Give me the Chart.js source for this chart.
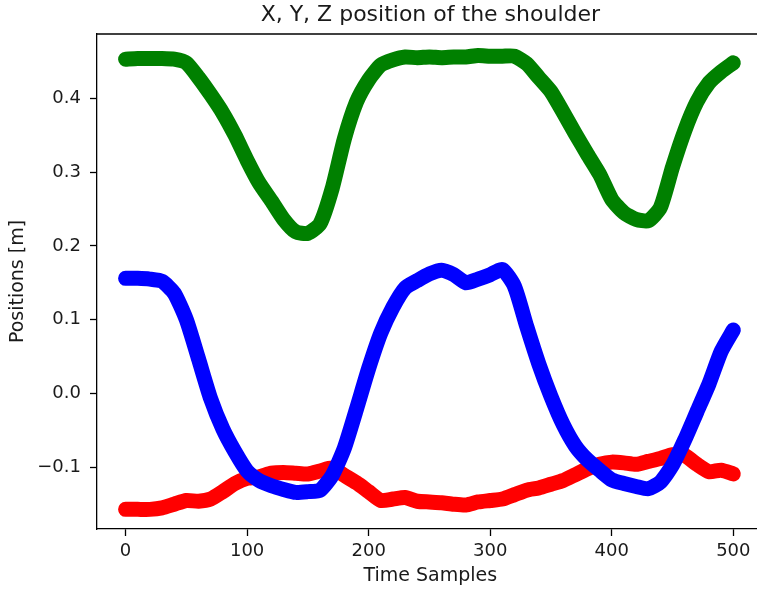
<!DOCTYPE html>
<html>
<head>
<meta charset="utf-8">
<script src="https://cdn.jsdelivr.net/npm/chart.js@4/dist/chart.umd.min.js"></script>
<style>
  html, body { margin: 0; padding: 0; background: #fff; overflow: hidden; }
  #wrap { width: 757px; height: 589px; overflow: hidden; }
  canvas { display: block; }
</style>
</head>
<body>
<div id="wrap"><canvas id="chart" width="770" height="589"></canvas></div>
<script>
// sample index (x axis), read every 10 samples off the reference
const SAMPLES = [0, 10, 20, 30, 40, 50, 60, 70, 80, 90, 100, 110, 120, 130, 140, 150, 160, 170, 180, 190, 200,
  210, 220, 230, 240, 250, 260, 270, 280, 290, 300, 310, 320, 330, 340, 350, 360, 370, 380, 390, 400,
  410, 420, 430, 440, 450, 460, 470, 480, 490, 500];

const greenValues = [0.453, 0.454, 0.454, 0.454, 0.453, 0.448, 0.428, 0.405, 0.380, 0.350, 0.316, 0.285, 0.261, 0.236, 0.219, 0.217,
  0.230, 0.278, 0.345, 0.395, 0.425, 0.445, 0.452, 0.456, 0.455, 0.456, 0.455, 0.456, 0.456, 0.458, 0.457, 0.457, 0.457,
  0.447, 0.428, 0.409, 0.381, 0.352, 0.324, 0.297, 0.263, 0.245, 0.236, 0.234, 0.252, 0.307, 0.356, 0.395, 0.421, 0.436, 0.448];

const blueValues = [0.156, 0.156, 0.155, 0.152, 0.136, 0.100, 0.047, -0.007, -0.048, -0.079, -0.105, -0.118, -0.125, -0.130,
  -0.134, -0.133, -0.131, -0.111, -0.074, -0.021, 0.034, 0.082, 0.117, 0.143, 0.153, 0.162, 0.167, 0.161, 0.150, 0.155,
  0.161, 0.168, 0.145, 0.091, 0.040, -0.004, -0.042, -0.071, -0.090, -0.104, -0.117, -0.122, -0.126, -0.129, -0.120,
  -0.097, -0.063, -0.025, 0.013, 0.057, 0.086];

const redValues = [-0.157, -0.157, -0.157, -0.155, -0.150, -0.145, -0.146, -0.143, -0.133, -0.122, -0.115, -0.113, -0.108,
  -0.107, -0.108, -0.109, -0.105, -0.101, -0.111, -0.121, -0.133, -0.145, -0.143, -0.141, -0.146, -0.147, -0.148, -0.150,
  -0.151, -0.147, -0.145, -0.143, -0.137, -0.131, -0.128, -0.123, -0.118, -0.110, -0.102, -0.096, -0.093, -0.094, -0.096,
  -0.092, -0.088, -0.083, -0.084, -0.096, -0.106, -0.104, -0.109];

const X_TICKS = [0, 100, 200, 300, 400, 500];
const Y_TICKS = [-0.1, 0.0, 0.1, 0.2, 0.3, 0.4];

const FONT = "'DejaVu Sans', sans-serif";
const INK = '#1a1a1a';

const toPoints = (values) => values.map((v, i) => ({ x: SAMPLES[i], y: v }));

const series = (label, values, color) => ({
  label: label,
  data: toPoints(values),
  showLine: true,
  borderColor: color,
  backgroundColor: color,
  borderWidth: 15,
  borderCapStyle: 'round',
  borderJoinStyle: 'round',
  tension: 0.2,
  pointRadius: 0,
  pointHoverRadius: 0
});

// top spine of the axes box
const topSpine = {
  id: 'topSpine',
  afterDraw(chart) {
    const { ctx, chartArea } = chart;
    ctx.save();
    ctx.strokeStyle = '#000';
    ctx.lineWidth = 1.3;
    ctx.beginPath();
    ctx.moveTo(chartArea.left, chartArea.top);
    ctx.lineTo(chartArea.right, chartArea.top);
    ctx.stroke();
    ctx.restore();
  }
};

new Chart(document.getElementById('chart'), {
  type: 'scatter',
  data: {
    datasets: [
      series('Z', blueValues, '#0000ff'),
      series('X', redValues, '#ff0000'),
      series('Y', greenValues, '#008000')
    ]
  },
  plugins: [topSpine],
  options: {
    responsive: false,
    animation: false,
    devicePixelRatio: 1,
    layout: { padding: { left: 0, right: 6.3, top: 0, bottom: 0 } },
    plugins: {
      legend: { display: false },
      tooltip: { enabled: false },
      title: {
        display: true,
        text: 'X, Y, Z position of the shoulder',
        fullSize: false,
        color: INK,
        font: { family: FONT, size: 22, weight: 'normal' },
        padding: { top: 2, bottom: 5.6 }
      }
    },
    scales: {
      x: {
        type: 'linear',
        min: -23.5,
        max: 525,
        afterBuildTicks: (axis) => { axis.ticks = X_TICKS.map(v => ({ value: v })); },
        afterFit: (axis) => { axis.height = 60; },
        grid: { display: true, drawOnChartArea: false, drawTicks: true, tickLength: 7, tickWidth: 1.3, tickColor: '#000' },
        border: { display: true, color: '#000', width: 1.3 },
        ticks: { color: INK, font: { family: FONT, size: 18 }, padding: 5, maxRotation: 0 },
        title: { display: true, text: 'Time Samples', color: INK, font: { family: FONT, size: 19 }, padding: { top: 0, bottom: 2 } }
      },
      y: {
        type: 'linear',
        min: -0.1836,
        max: 0.4871,
        afterBuildTicks: (axis) => { axis.ticks = Y_TICKS.map(v => ({ value: v })); },
        afterFit: (axis) => { axis.width = 97; },
        grid: { display: true, drawOnChartArea: false, drawTicks: true, tickLength: 7, tickWidth: 1.3, tickColor: '#000' },
        border: { display: true, color: '#000', width: 1.3 },
        ticks: {
          color: INK,
          font: { family: FONT, size: 18 },
          padding: 9,
          callback: (v) => (v < 0 ? '\u2212' : '') + Math.abs(v).toFixed(1)
        },
        title: { display: true, text: 'Positions [m]', color: INK, font: { family: FONT, size: 19 }, padding: { top: 7, bottom: 0 } }
      }
    }
  }
});
</script>
</body>
</html>
